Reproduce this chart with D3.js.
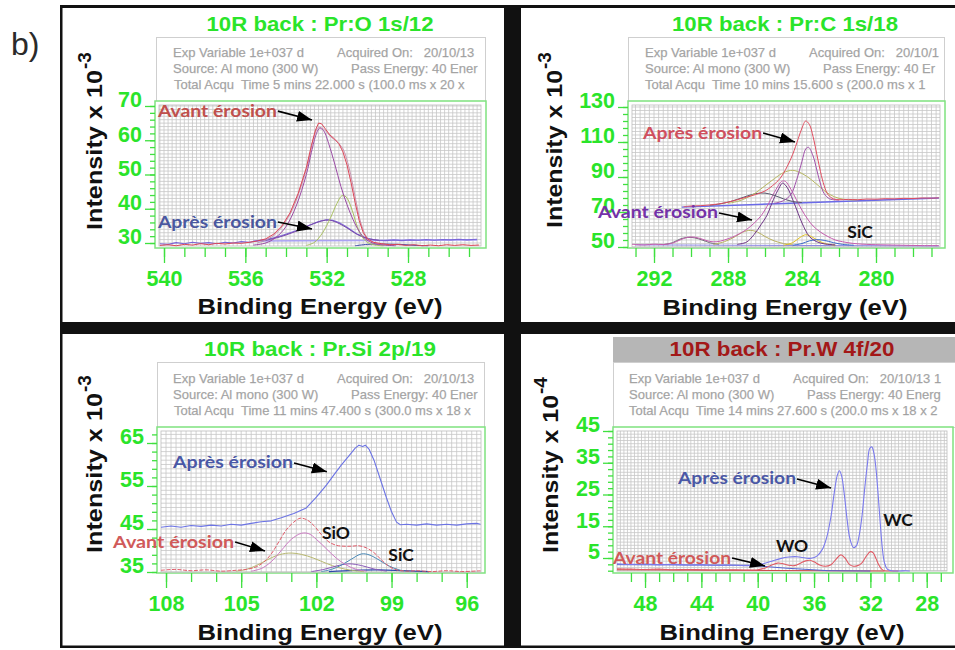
<!DOCTYPE html>
<html><head><meta charset="utf-8">
<script src="https://cdn.jsdelivr.net/npm/d3@7"></script>
<style>
html,body{margin:0;padding:0;background:#fff;}
svg{display:block;}
text{white-space:pre;}
</style></head><body>
<svg id="fig" width="955" height="650"></svg>
<script>
// ---------- O 1s ----------
const o1sXTicks = [540, 536, 532, 528];
const o1sYTicks = [30, 40, 50, 60, 70];
const o1sAvant = [[540.2,29.3],[539.8,29.5],[539.4,29.2],[539.0,29.6],[538.6,29.4],[538.2,29.8],[537.8,29.5],[537.4,29.9],[537.0,29.7],[536.6,30.0],[536.2,29.9],[535.8,30.2],[535.4,30.6],[535.0,31.2],[534.6,32.6],[534.2,35.0],[533.8,38.8],[533.4,44.5],[533.0,52.0],[532.75,58.5],[532.55,63.0],[532.4,65.0],[532.25,64.8],[532.05,63.2],[531.85,61.6],[531.6,60.3],[531.4,59.0],[531.2,56.6],[531.0,52.8],[530.8,47.6],[530.6,41.8],[530.4,36.6],[530.2,33.0],[530.0,31.2],[529.7,30.2],[529.3,29.8],[528.9,29.5],[528.5,29.6],[528.1,29.3],[527.7,29.5],[527.3,29.2],[526.9,29.4],[526.5,29.2],[526.1,29.5],[525.7,29.3],[525.3,29.5],[524.9,29.3],[524.5,29.4]];
const o1sAvantFit = [[535.4,30.0],[534.6,32.2],[533.8,38.4],[533.0,51.5],[532.6,61.5],[532.4,63.8],[532.1,63.0],[531.8,61.0],[531.5,59.6],[531.2,57.5],[530.9,52.0],[530.6,43.5],[530.3,35.5],[530.0,31.5],[529.6,30.0],[529.0,29.5]];
const o1sAvantMain = [[535.6,29.4],[535.0,30.0],[534.5,31.6],[534.0,34.8],[533.5,40.8],[533.0,50.0],[532.75,56.5],[532.5,62.0],[532.35,63.5],[532.15,62.8],[531.9,59.0],[531.6,53.0],[531.3,46.5],[531.0,41.2],[530.7,36.8],[530.4,33.4],[530.1,31.2],[529.7,29.9],[529.2,29.4],[528.6,29.2]];
const o1sAvantSide = [[533.0,29.3],[532.6,30.2],[532.2,33.0],[531.8,37.5],[531.5,41.5],[531.25,43.8],[531.05,43.5],[530.8,40.5],[530.55,35.8],[530.3,32.2],[530.0,30.2],[529.6,29.4],[529.2,29.2]];
const o1sApres = [[540.2,29.8],[539.8,29.6],[539.4,30.1],[539.0,29.8],[538.6,30.2],[538.2,29.9],[537.8,30.1],[537.4,29.8],[537.0,30.2],[536.6,30.0],[536.2,30.4],[535.8,30.2],[535.4,30.7],[535.0,31.0],[534.6,31.5],[534.2,32.2],[533.8,33.0],[533.4,33.8],[533.0,34.8],[532.6,35.8],[532.3,36.4],[532.0,36.8],[531.7,36.6],[531.4,36.0],[531.1,35.0],[530.8,33.8],[530.5,32.6],[530.2,31.8],[529.9,31.2],[529.5,30.8],[529.1,30.7],[528.7,30.9],[528.3,30.7],[527.9,30.9],[527.5,30.8],[527.1,31.0],[526.7,30.8],[526.3,31.0],[525.9,30.9],[525.5,31.1],[525.1,30.9],[524.6,31.1]];
const o1sApresFit = [[535.2,30.5],[534.4,31.6],[533.6,33.2],[532.8,35.3],[532.2,36.5],[531.9,36.7],[531.5,36.0],[531.0,34.4],[530.5,32.5],[530.0,31.3],[529.4,30.8]];
const o1sApresBg = [[535.6,30.6],[524.6,30.9]];
const o1sMinor = [[530.6,29.2],[530.0,29.6],[529.2,29.7],[528.4,29.6],[527.6,29.3],[527.0,29.2]];

// ---------- C 1s ----------
const c1sXTicks = [292, 288, 284, 280];
const c1sYTicks = [50, 70, 90, 110, 130];
const c1sApres = [[290.4,73.0],[290.0,73.4],[289.5,73.6],[289.0,74.0],[288.5,74.6],[288.0,75.6],[287.5,77.0],[287.0,78.5],[286.5,80.0],[286.0,82.0],[285.6,85.0],[285.2,89.0],[284.8,96.0],[284.5,103.0],[284.2,112.0],[284.0,118.0],[283.8,122.0],[283.6,120.0],[283.4,113.0],[283.2,103.0],[283.0,93.0],[282.8,85.0],[282.6,80.0],[282.3,77.5],[282.0,77.0],[281.5,77.2],[281.0,77.0],[280.5,77.4],[280.0,77.3],[279.5,77.6],[279.0,77.5],[278.5,77.8],[278.0,77.7],[277.5,78.0],[277.0,77.9],[276.6,78.1]];
const c1sApresBg = [[290.5,72.8],[276.6,78.0]];
const c1sApresC1 = [[285.5,75.0],[285.0,76.5],[284.6,80.0],[284.3,88.0],[284.0,99.0],[283.8,106.0],[283.65,107.0],[283.4,102.0],[283.2,94.0],[283.0,86.0],[282.8,80.5],[282.5,77.5],[282.0,76.8]];
const c1sApresC2 = [[288.0,75.0],[287.5,76.0],[287.0,78.0],[286.5,81.0],[286.0,85.0],[285.5,89.0],[285.0,92.5],[284.5,93.8],[284.0,92.0],[283.5,88.5],[283.0,84.0],[282.5,80.0],[282.0,77.8],[281.5,77.0],[281.0,77.0]];
const c1sApresC3 = [[289.0,73.8],[288.5,74.5],[288.0,75.6],[287.5,77.2],[287.0,79.0],[286.5,80.5],[286.0,80.8],[285.5,79.5],[285.0,77.5],[284.5,76.0],[284.0,75.4]];
const c1sAvant = [[293.2,51.5],[292.5,51.2],[292.0,51.6],[291.5,51.4],[291.0,52.2],[290.6,54.0],[290.2,55.5],[289.8,55.6],[289.4,54.5],[289.0,53.2],[288.6,53.0],[288.2,54.0],[287.8,55.5],[287.4,57.5],[287.0,60.0],[286.6,63.5],[286.2,68.0],[285.8,75.0],[285.4,83.0],[285.1,87.5],[284.9,87.5],[284.6,83.0],[284.3,77.0],[284.0,71.0],[283.7,66.0],[283.4,62.0],[283.0,58.5],[282.6,56.0],[282.2,54.0],[281.8,53.0],[281.2,52.0],[280.5,51.5],[279.5,51.2],[278.5,51.0],[277.5,50.8],[276.6,50.8]];
const c1sAvantC1 = [[287.5,51.5],[287.0,52.8],[286.6,57.0],[286.2,63.0],[285.9,68.0],[285.55,77.0],[285.25,83.5],[285.05,86.5],[284.8,84.0],[284.5,77.0],[284.2,69.0],[284.0,63.7],[283.6,56.0],[283.2,53.0],[282.8,51.8],[282.2,51.2]];
const c1sAvantC2 = [[288.8,51.5],[288.2,53.0],[287.6,56.0],[287.2,58.5],[286.8,59.5],[286.4,58.5],[286.0,56.0],[285.5,53.5],[285.0,52.0],[284.5,51.3]];
const c1sAvantC3 = [[291.5,51.3],[291.0,52.5],[290.6,54.5],[290.2,55.5],[289.8,55.2],[289.4,54.0],[289.0,52.5],[288.5,51.5]];
const c1sAvantC4 = [[285.0,51.0],[284.5,52.5],[284.1,55.5],[283.8,57.0],[283.5,56.0],[283.1,53.5],[282.7,51.8],[282.2,51.0]];
const c1sAvantC5 = [[284.5,51.0],[284.0,52.0],[283.6,53.5],[283.2,54.2],[282.8,53.8],[282.3,52.5],[281.8,51.5],[281.2,51.0]];
const c1sAvantBg = [[293.0,51.2],[276.6,50.6]];

// ---------- Si 2p ----------
const si2pXTicks = [108, 105, 102, 99, 96];
const si2pYTicks = [35, 45, 55, 65];
const si2pApres = [[108.2,45.4],[107.8,45.7],[107.4,45.4],[107.0,45.8],[106.6,45.6],[106.2,45.9],[105.8,45.7],[105.4,46.1],[105.0,45.9],[104.6,46.3],[104.2,46.7],[103.8,46.9],[103.4,47.6],[102.9,48.6],[102.4,49.9],[102.0,52.4],[101.6,55.2],[101.3,57.6],[101.0,59.9],[100.7,62.0],[100.45,63.8],[100.3,64.5],[100.15,64.2],[100.05,64.5],[99.9,63.6],[99.7,61.0],[99.5,57.5],[99.2,52.2],[99.0,49.0],[98.8,46.6],[98.65,46.0],[98.4,46.1],[98.0,45.9],[97.6,46.2],[97.2,45.9],[96.8,46.1],[96.4,45.9],[96.0,46.2],[95.6,46.3],[95.45,46.1]];
const si2pAvant = [[108.2,35.4],[107.6,35.6],[107.0,35.3],[106.4,35.5],[105.8,35.2],[105.2,35.4],[104.8,35.6],[104.4,36.2],[104.1,37.3],[103.8,39.2],[103.5,42.0],[103.2,44.8],[102.9,46.6],[102.65,47.5],[102.4,47.2],[102.1,45.8],[101.8,43.7],[101.5,42.0],[101.2,41.2],[100.9,41.0],[100.6,41.0],[100.3,41.1],[100.0,40.6],[99.7,39.5],[99.4,37.8],[99.1,36.3],[98.8,35.5],[98.4,35.2],[98.0,35.3],[97.4,35.1],[96.8,35.3],[96.2,35.1],[95.45,35.3]];
const si2pC1 = [[104.6,35.2],[104.2,35.8],[103.8,37.4],[103.4,40.0],[103.0,42.6],[102.6,44.0],[102.3,43.9],[102.0,42.6],[101.6,40.4],[101.2,38.2],[100.8,36.6],[100.4,35.6],[100.0,35.2]];
const si2pC2 = [[105.2,35.2],[104.8,35.6],[104.4,36.5],[104.0,37.7],[103.6,38.8],[103.1,39.4],[102.6,39.1],[102.1,38.2],[101.6,37.0],[101.1,36.0],[100.6,35.4],[100.1,35.1]];
const si2pC3 = [[101.8,35.1],[101.4,35.6],[101.0,36.6],[100.6,38.0],[100.2,39.2],[99.9,39.0],[99.5,37.8],[99.1,36.4],[98.7,35.5],[98.3,35.1]];
const si2pC4 = [[102.2,35.1],[101.7,35.6],[101.2,36.4],[100.7,36.9],[100.2,36.5],[99.7,35.7],[99.2,35.2]];
const si2pC5 = [[101.5,35.1],[100.5,35.4],[99.5,35.5],[98.5,35.3],[97.5,35.1]];

// ---------- W 4f ----------
const w4fXTicks = [48, 44, 40, 36, 32, 28];
const w4fYTicks = [5, 15, 25, 35, 45];
const w4fApres = [[50.0,3.2],[49.0,3.0],[48.0,3.1],[47.0,2.9],[46.0,3.0],[45.0,2.8],[44.0,2.9],[43.0,2.7],[42.0,2.8],[41.0,2.6],[40.2,2.7],[39.6,3.2],[39.0,4.0],[38.4,4.8],[37.8,5.3],[37.2,5.4],[36.6,5.0],[36.2,4.9],[35.8,5.6],[35.4,7.8],[35.1,11.5],[34.8,18.0],[34.55,26.0],[34.35,31.0],[34.2,32.5],[34.05,31.0],[33.85,25.0],[33.65,17.0],[33.45,11.0],[33.2,8.3],[33.0,8.8],[32.8,12.0],[32.6,18.0],[32.4,27.0],[32.2,35.0],[32.05,39.5],[31.9,40.0],[31.75,38.0],[31.6,33.0],[31.45,25.0],[31.3,16.0],[31.15,8.0],[31.0,3.5],[30.8,1.5],[30.5,1.0],[30.0,0.9],[29.5,1.0],[29.2,0.9]];
const w4fAvant = [[50.0,1.6],[49.0,1.5],[48.0,1.4],[47.0,1.5],[46.0,1.3],[45.0,1.4],[44.0,1.3],[43.0,1.2],[42.0,1.3],[41.0,1.2],[40.0,1.3],[39.5,1.8],[39.0,2.8],[38.6,3.4],[38.2,3.2],[37.8,2.7],[37.4,2.6],[37.0,3.3],[36.6,4.1],[36.3,4.3],[36.0,3.8],[35.6,2.8],[35.2,2.4],[34.8,2.9],[34.4,4.8],[34.1,6.0],[33.8,5.0],[33.5,3.0],[33.2,2.4],[32.9,2.6],[32.6,3.5],[32.3,5.5],[32.0,7.0],[31.8,6.6],[31.6,4.8],[31.4,2.8],[31.2,1.5],[31.0,1.0],[30.5,0.9],[30.0,0.9]];
const w4fApresBg = [[50.0,2.9],[40.5,2.7],[38.0,1.8],[35.0,1.0],[32.0,0.9]];
const w4fAvantBg = [[50.0,1.3],[36.0,1.0],[31.0,0.9]];

const GREEN = "#2ae42a";
const fig = d3.select("#fig");

// panel borders
fig.append("rect").attr("x", 61).attr("y", 5).attr("width", 900).attr("height", 3).attr("fill", "#111");
fig.append("rect").attr("x", 60).attr("y", 5).attr("width", 2.5).attr("height", 643).attr("fill", "#111");
fig.append("rect").attr("x", 504).attr("y", 5).attr("width", 17).attr("height", 643).attr("fill", "#111");
fig.append("rect").attr("x", 60).attr("y", 322).attr("width", 900).attr("height", 12).attr("fill", "#111");
fig.append("rect").attr("x", 60).attr("y", 645.5).attr("width", 900).attr("height", 2.5).attr("fill", "#111");
fig.append("text").attr("x", 11).attr("y", 55).attr("font-family", "Arial, 'Liberation Sans', sans-serif")
  .attr("font-size", 32).attr("fill", "#2a2a2a").text("b)");

// arrow head
fig.append("defs").append("marker").attr("id", "head")
  .attr("markerUnits", "userSpaceOnUse").attr("markerWidth", 16).attr("markerHeight", 12)
  .attr("refX", 15).attr("refY", 5.5).attr("orient", "auto")
  .append("path").attr("d", "M0,0 L15,5.5 L0,11 Z").attr("fill", "#000");

const panels = [
  {
    id: "o1s", title: "10R back : Pr:O 1s/12", titleColor: GREEN, titleX: 320, titleY: 30.5, titleLen: 227,
    xDomain: [540.246, 524.41], yDomain: [29.124, 70.29],
    plot: [159, 105, 481, 246], frame: [155, 101, 486, 248], info: [156, 37, 486, 101],
    infoLines: [["Exp Variable 1e+037 d", 173, 57], ["Acquired On:   20/10/13", 337, 57],
                ["Source: Al mono (300 W)", 173, 73], ["Pass Energy: 40 Ener", 351, 73],
                ["Total Acqu  Time 5 mins 22.000 s (100.0 ms x 20 x", 174, 89]],
    xTicks: o1sXTicks, yTicks: o1sYTicks, xMinor: d3.range(525, 541, 1), yMinor: d3.range(30, 71, 2),
    gridX: 0.2, gridY: 1, xTitle: [320, 314], yTitle: [102, 230, 160], exp: "-3",
    series: [
      { d: o1sApresBg, c: "#a9a2f2", w: 1.6, smooth: false },
      { d: o1sMinor, c: "#3a46a8", w: 1, smooth: true },
      { d: o1sApres, c: "#7a66d8", w: 1.1, smooth: false },
      { d: o1sApresFit, c: "#7a4aa8", w: 1, smooth: true },
      { d: o1sAvantSide, c: "#a9c060", w: 1, smooth: true },
      { d: o1sAvantFit, c: "#c894b0", w: 1, smooth: true },
      { d: o1sAvantMain, c: "#9a4aa4", w: 1, smooth: true },
      { d: o1sAvant, c: "#dc4656", w: 1, smooth: false }
    ],
    notes: [
      { t: "Avant érosion", c: "#c0504d", at: [540.3, 68.8], len: 119, tip: [532.72, 65.9] },
      { t: "Après érosion", c: "#4a58a0", at: [540.3, 36.4], len: 119, tip: [532.72, 34.1] }
    ],
    tags: []
  },
  {
    id: "c1s", title: "10R back : Pr:C 1s/18", titleColor: GREEN, titleX: 785, titleY: 30.5, titleLen: 226,
    xDomain: [293.19, 276.54], yDomain: [50, 131.14],
    plot: [632, 105, 940, 247], frame: [628, 101, 945, 248], info: [628, 37, 945, 101],
    infoLines: [["Exp Variable 1e+037 d", 645, 57], ["Acquired On:   20/10/1", 809, 57],
                ["Source: Al mono (300 W)", 645, 73], ["Pass Energy: 40 Er", 823, 73],
                ["Total Acqu  Time 10 mins 15.600 s (200.0 ms x 1", 645, 89]],
    xTicks: c1sXTicks, yTicks: c1sYTicks, xMinor: d3.range(277, 294, 1), yMinor: d3.range(50, 131, 4),
    gridX: 0.25, gridY: 2, xTitle: [785, 315], yTitle: [562, 228, 158], exp: "-3",
    series: [
      { d: c1sAvantBg, c: "#8c86e6", w: 1, smooth: false },
      { d: c1sApresBg, c: "#6a6ae8", w: 1.4, smooth: false },
      { d: c1sAvantC3, c: "#6e6e78", w: 1, smooth: true },
      { d: c1sAvantC2, c: "#b8b060", w: 1, smooth: true },
      { d: c1sAvantC4, c: "#e2c022", w: 1, smooth: true },
      { d: c1sAvantC5, c: "#3a6ac8", w: 1, smooth: true },
      { d: c1sAvantC1, c: "#6e3486", w: 1, smooth: true },
      { d: c1sAvant, c: "#c45cae", w: 1, smooth: true },
      { d: c1sApresC3, c: "#55556a", w: 1, smooth: true },
      { d: c1sApresC2, c: "#b8b862", w: 1, smooth: true },
      { d: c1sApresC1, c: "#a050aa", w: 1, smooth: true },
      { d: c1sApres, c: "#e04e60", w: 1, smooth: true }
    ],
    notes: [
      { t: "Après érosion", c: "#d0505e", at: [292.59, 115.7], len: 119, tip: [284.38, 110] },
      { t: "Avant érosion", c: "#7432a8", at: [295.03, 70], len: 120, tip: [286.7, 65.4] }
    ],
    tags: [{ t: "SiC", at: [280.86, 58.6] }]
  },
  {
    id: "si2p", title: "10R back : Pr.Si 2p/19", titleColor: GREEN, titleX: 320, titleY: 356, titleLen: 232,
    xDomain: [108.2, 95.43], yDomain: [35, 67.79],
    plot: [161, 431, 481, 572], frame: [157, 427, 485, 573], info: [157, 362, 485, 427],
    infoLines: [["Exp Variable 1e+037 d", 173, 383], ["Acquired On:   20/10/13", 337, 383],
                ["Source: Al mono (300 W)", 173, 399], ["Pass Energy: 40 Ener", 351, 399],
                ["Total Acqu  Time 11 mins 47.400 s (300.0 ms x 18 x", 174, 415]],
    xTicks: si2pXTicks, yTicks: si2pYTicks, xMinor: d3.range(96, 109, 1), yMinor: d3.range(35, 68, 2),
    gridX: 0.2, gridY: 1, xTitle: [320, 640], yTitle: [102, 553, 160], exp: "-3",
    series: [
      { d: si2pC5, c: "#2a46a8", w: 1.2, smooth: true },
      { d: si2pC2, c: "#b8b870", w: 1, smooth: true },
      { d: si2pC4, c: "#8a5ab8", w: 1, smooth: true },
      { d: si2pC3, c: "#4a8ab8", w: 1, smooth: true },
      { d: si2pC1, c: "#cc7cc4", w: 1, smooth: true },
      { d: si2pAvant, c: "#e05c6a", w: 1, smooth: true, dash: "4,1.5" },
      { d: si2pApres, c: "#6c74e4", w: 1.1, smooth: false }
    ],
    notes: [
      { t: "Après érosion", c: "#4a58a6", at: [107.72, 60.6], len: 120, tip: [101.58, 58.3] },
      { t: "Avant érosion", c: "#d05a5a", at: [110.11, 42.2], len: 121, tip: [104.05, 39.9] }
    ],
    tags: [{ t: "SiO", at: [101.22, 44.3] }, { t: "SiC", at: [98.62, 39.0] }]
  },
  {
    id: "w4f", title: "10R back : Pr.W 4f/20", titleColor: "#a31818", titleX: 782, titleY: 356, titleLen: 225,
    titleBar: [613, 337, 960, 362],
    xDomain: [49.99, 26.56], yDomain: [0.906, 45],
    plot: [617, 431, 947, 571], frame: [613, 427, 953, 573], info: [613, 362, 960, 427],
    infoLines: [["Exp Variable 1e+037 d", 629, 383], ["Acquired On:   20/10/13 1", 793, 383],
                ["Source: Al mono (300 W)", 629, 399], ["Pass Energy: 40 Energ", 807, 399],
                ["Total Acqu  Time 14 mins 27.600 s (200.0 ms x 18 x 2", 629, 415]],
    xTicks: w4fXTicks, yTicks: w4fYTicks, xMinor: d3.range(27, 50, 1), yMinor: d3.range(1, 46, 2),
    gridX: 0.25, gridY: 1, xTitle: [782, 640], yTitle: [558, 553, 158], exp: "-4",
    series: [
      { d: w4fAvantBg, c: "#d04848", w: 1, smooth: false },
      { d: w4fApresBg, c: "#5464d0", w: 1, smooth: false },
      { d: w4fAvant, c: "#e05a64", w: 1.1, smooth: true },
      { d: w4fApres, c: "#7a7aec", w: 1.1, smooth: true }
    ],
    notes: [
      { t: "Après érosion", c: "#4a58a6", at: [45.66, 30.2], len: 118, tip: [34.79, 27.05] },
      { t: "Avant érosion", c: "#d05a5a", at: [50.27, 5.3], len: 118, tip: [39.48, 2.5] }
    ],
    tags: [{ t: "WO", at: [37.56, 8.8] }, { t: "WC", at: [30.04, 17.0] }]
  }
];

const SANS = "Arial, 'Liberation Sans', sans-serif";
const LABEL = "Lato, 'Open Sans', sans-serif";

function drawPanel(p) {
  const g = fig.append("g").attr("class", "panel-" + p.id);
  const x = d3.scaleLinear().domain(p.xDomain).range([p.plot[0], p.plot[2]]);
  const y = d3.scaleLinear().domain(p.yDomain).range([p.plot[3], p.plot[1]]);
  const defs = fig.select("defs");

  // title
  if (p.titleBar) {
    g.append("rect").attr("x", p.titleBar[0]).attr("y", p.titleBar[1])
      .attr("width", p.titleBar[2] - p.titleBar[0]).attr("height", p.titleBar[3] - p.titleBar[1])
      .attr("fill", "#b6b6b6");
  }
  g.append("text").attr("x", p.titleX).attr("y", p.titleY).attr("text-anchor", "middle")
    .attr("font-family", SANS).attr("font-weight", "bold").attr("font-size", 21)
    .attr("textLength", p.titleLen).attr("lengthAdjust", "spacingAndGlyphs")
    .attr("fill", p.titleColor).text(p.title);

  // acquisition info box
  const [ix0, iy0, ix1, iy1] = p.info;
  defs.append("clipPath").attr("id", "info-" + p.id).append("rect")
    .attr("x", ix0).attr("y", iy0).attr("width", ix1 - ix0 - 1).attr("height", iy1 - iy0);
  g.append("rect").attr("x", ix0 + 0.5).attr("y", iy0 + 0.5).attr("width", ix1 - ix0 - 1).attr("height", iy1 - iy0)
    .attr("fill", "#fff").attr("stroke", "#cfcfcf").attr("stroke-width", 1);
  g.append("g").attr("clip-path", "url(#info-" + p.id + ")")
    .selectAll("text").data(p.infoLines).join("text")
    .attr("x", d => d[1]).attr("y", d => d[2])
    .attr("font-family", SANS).attr("font-size", 13).attr("fill", "#9d9d9d")
    .attr("stroke", "#b4b4b4").attr("stroke-width", 0.25)
    .text(d => d[0]);

  // plot frame and grid
  const [fx0, fy0, fx1, fy1] = p.frame;
  g.append("rect").attr("x", fx0).attr("y", fy0).attr("width", fx1 - fx0).attr("height", fy1 - fy0)
    .attr("fill", "#fff").attr("stroke", "#7fe27f").attr("stroke-width", 1.5);
  const [xl, xh] = d3.extent(p.xDomain);
  const [yl, yh] = d3.extent(p.yDomain);
  const gx = d3.range(Math.ceil(xl / p.gridX) * p.gridX, xh, p.gridX);
  const gy = d3.range(Math.ceil(yl / p.gridY) * p.gridY, yh, p.gridY);
  const grid = g.append("g").attr("stroke", "#c6c6c6").attr("stroke-width", 0.8);
  grid.selectAll("line.gx").data(gx).join("line").attr("class", "gx")
    .attr("x1", d => x(d)).attr("x2", d => x(d)).attr("y1", p.plot[1]).attr("y2", p.plot[3]);
  grid.selectAll("line.gy").data(gy).join("line").attr("class", "gy")
    .attr("x1", p.plot[0]).attr("x2", p.plot[2]).attr("y1", d => y(d)).attr("y2", d => y(d));
  g.append("rect").attr("x", p.plot[0]).attr("y", p.plot[1])
    .attr("width", p.plot[2] - p.plot[0]).attr("height", p.plot[3] - p.plot[1])
    .attr("fill", "none").attr("stroke", "#bdbdbd").attr("stroke-width", 0.8);

  // axes
  const styleAxis = sel => {
    sel.select(".domain").remove();
    sel.selectAll(".tick line").attr("stroke", "#3fe03f").attr("stroke-width", 1.3);
    sel.selectAll(".tick text").attr("fill", GREEN).attr("font-family", SANS)
      .attr("font-weight", "bold").attr("font-size", 21.5);
  };
  g.append("g").attr("transform", `translate(0,${fy1})`)
    .call(d3.axisBottom(x).tickValues(p.xMinor).tickSize(9).tickFormat(""))
    .call(styleAxis);
  g.append("g").attr("transform", `translate(0,${fy1})`)
    .call(d3.axisBottom(x).tickValues(p.xTicks).tickSize(15).tickPadding(8).tickFormat(d3.format("d")))
    .call(styleAxis);
  g.append("g").attr("transform", `translate(${fx0},0)`)
    .call(d3.axisLeft(y).tickValues(p.yMinor).tickSize(5).tickFormat(""))
    .call(styleAxis);
  g.append("g").attr("transform", `translate(${fx0},0)`)
    .call(d3.axisLeft(y).tickValues(p.yTicks).tickSize(10).tickPadding(3).tickFormat(d3.format("d")))
    .call(styleAxis)
    .call(sel => sel.selectAll(".tick text").attr("dy", "0.04em"));

  // axis titles
  g.append("text").attr("x", p.xTitle[0]).attr("y", p.xTitle[1]).attr("text-anchor", "middle")
    .attr("font-family", SANS).attr("font-weight", "bold").attr("font-size", 22)
    .attr("textLength", 245).attr("lengthAdjust", "spacingAndGlyphs")
    .attr("fill", "#111").text("Binding Energy (eV)");
  const yt = g.append("text")
    .attr("transform", `translate(${p.yTitle[0]},${p.yTitle[1]}) rotate(-90)`)
    .attr("font-family", SANS).attr("font-weight", "bold").attr("fill", "#111");
  yt.append("tspan").attr("font-size", 22).attr("textLength", p.yTitle[2])
    .attr("lengthAdjust", "spacingAndGlyphs").text("Intensity x 10");
  yt.append("tspan").attr("font-size", 19).attr("dy", -11).attr("dx", 1).text(p.exp);

  // spectra
  defs.append("clipPath").attr("id", "plot-" + p.id).append("rect")
    .attr("x", p.plot[0]).attr("y", p.plot[1] - 2)
    .attr("width", p.plot[2] - p.plot[0]).attr("height", p.plot[3] - p.plot[1] + 3);
  const curves = g.append("g").attr("clip-path", "url(#plot-" + p.id + ")");
  p.series.forEach(s => {
    const line = d3.line().x(d => x(d[0])).y(d => y(d[1]))
      .curve(s.smooth ? d3.curveCatmullRom.alpha(0.5) : d3.curveLinear);
    curves.append("path").datum(s.d).attr("d", line)
      .attr("fill", "none").attr("stroke", s.c).attr("stroke-width", s.w)
      .attr("stroke-dasharray", s.dash || null).attr("stroke-linejoin", "round");
  });

  // annotations
  p.notes.forEach(n => {
    const lx = x(n.at[0]), ly = y(n.at[1]);
    g.append("text").attr("x", lx).attr("y", ly).attr("dominant-baseline", "central")
      .attr("font-family", LABEL).attr("font-weight", "bold").attr("font-size", 17.5)
      .attr("textLength", n.len).attr("lengthAdjust", "spacingAndGlyphs")
      .attr("fill", n.c).text(n.t);
    g.append("line").attr("x1", lx + n.len + 1).attr("y1", ly + 1)
      .attr("x2", x(n.tip[0])).attr("y2", y(n.tip[1]))
      .attr("stroke", "#000").attr("stroke-width", 1.6).attr("marker-end", "url(#head)");
  });
  p.tags.forEach(t => {
    g.append("text").attr("x", x(t.at[0])).attr("y", y(t.at[1])).attr("text-anchor", "middle")
      .attr("dominant-baseline", "central").attr("font-family", LABEL).attr("font-weight", "bold")
      .attr("font-size", 17.5).attr("fill", "#111").text(t.t);
  });
}

panels.forEach(drawPanel);
</script>
</body></html>
